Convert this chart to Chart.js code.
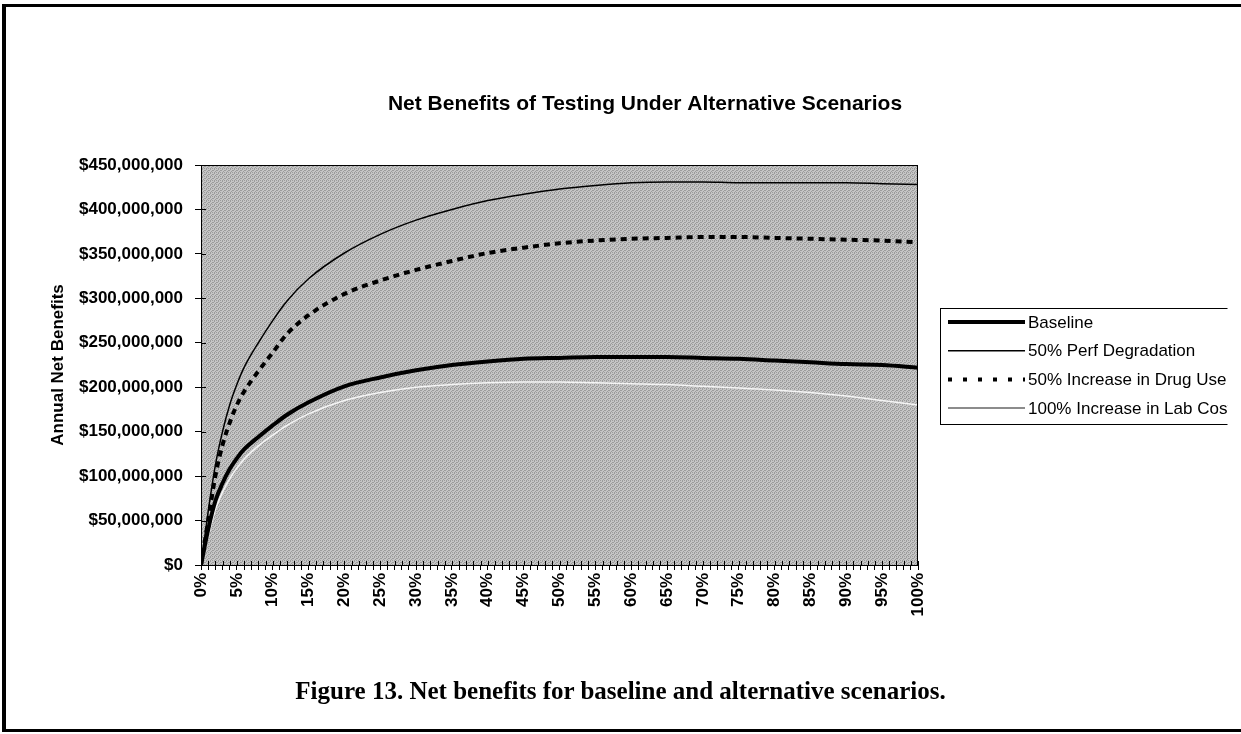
<!DOCTYPE html>
<html><head><meta charset="utf-8">
<script src="https://cdn.jsdelivr.net/npm/chart.js@4.4.1/dist/chart.umd.min.js"></script>
<style>
html,body{margin:0;padding:0;background:#fff;overflow:hidden;}
#wrap{position:relative;width:1241px;height:734px;overflow:hidden;}
#frame{position:absolute;left:2px;top:4px;width:1260px;height:728px;border-left:4px solid #000;border-top:3px solid #000;border-bottom:3px solid #000;box-sizing:border-box;}
canvas{position:absolute;left:0;top:0;}
#caption{position:absolute;left:0;width:1241px;top:676px;text-align:center;font-family:"Liberation Serif","Times New Roman",serif;font-weight:bold;font-size:25px;line-height:30px;color:#000;}
</style></head>
<body><div id="wrap"><div id="frame"></div><canvas id="c" width="1241" height="734"></canvas><div id="caption">Figure 13. Net benefits for baseline and alternative scenarios.</div></div>
<script>
// x positions (% tested) at which values were read
const percentTested = [0, 1, 2, 3, 4, 5, 6, 8, 10, 12, 15, 20, 25, 30, 35, 40, 45, 50, 55, 60, 65, 70, 75, 80, 85, 90, 95, 100];
// annual net benefits, millions of dollars
const baseline      = [0, 40, 72, 92, 108, 120, 130, 144, 157, 169, 183, 201, 211, 219, 225, 229, 232, 233, 234, 234, 234, 233, 232, 230, 228, 226, 225, 222];
const perfDegr50    = [0, 60, 112, 150, 180, 203, 222, 250, 275, 297, 322, 351, 372, 388, 400, 410, 417, 423, 427, 430, 431, 431, 430, 430, 430, 430, 429, 428];
const drugUse50     = [0, 50, 100, 135, 160, 180, 195, 218, 239, 260, 281, 305, 320, 332, 342, 351, 357, 362, 365, 367, 368, 369, 369, 368, 367, 366, 365, 363];
const labCost100    = [0, 32, 62, 82, 97, 109, 119, 134, 146, 157, 170, 185, 194, 200, 203, 205, 206, 206, 205, 204, 203, 201, 199, 197, 194, 190, 185, 180];
const seriesLabels  = ['Baseline', '50% Perf Degradation', '50% Increase in Drug Use', '100% Increase in Lab Cost'];
const chartTitle    = 'Net Benefits of Testing Under Alternative Scenarios';
const yAxisTitle    = 'Annual Net Benefits';
const yMax = 450000000, yStep = 50000000;
const xLabelEvery = 5;

const toPts = arr => arr.map((v, i) => ({x: percentTested[i], y: v * 1e6}));
const FONT = '"Liberation Sans", Arial, sans-serif';

function stipple(ctx) {
  const p = document.createElement('canvas');
  p.width = 4; p.height = 4;
  const g = p.getContext('2d');
  g.fillStyle = '#c6c6c6';
  g.fillRect(0, 0, 4, 4);
  g.fillStyle = '#9c9c9c';
  g.fillRect(0, 0, 1, 1); g.fillRect(2, 1, 1, 1); g.fillRect(1, 2, 1, 1); g.fillRect(3, 3, 1, 1);
  g.fillRect(2, 0, 1, 1); g.fillRect(0, 2, 1, 1);
  return ctx.createPattern(p, 'repeat');
}

const plotDecor = {
  id: 'plotDecor',
  beforeDraw(chart) {
    const {ctx, chartArea: a} = chart;
    ctx.save();
    ctx.fillStyle = stipple(ctx);
    ctx.fillRect(a.left, a.top, a.right - a.left, a.bottom - a.top);
    ctx.restore();
  },
  afterDraw(chart) {
    const {ctx, chartArea: a} = chart;
    ctx.save();
    // chart title, centred over the whole chart object (plot + legend)
    ctx.fillStyle = '#000';
    ctx.font = 'bold 21px ' + FONT;
    ctx.textAlign = 'center';
    ctx.textBaseline = 'middle';
    ctx.fillText(chartTitle, 645, 104);
    // plot frame
    ctx.strokeStyle = '#000';
    ctx.lineWidth = 1;
    ctx.strokeRect(a.left + 0.5, a.top + 0.5, a.right - a.left - 1, a.bottom - a.top);
    // inner halves of tick marks (cross ticks)
    const xs = chart.scales.x, ys = chart.scales.y;
    ctx.beginPath();
    xs.ticks.forEach((t, i) => { const px = Math.round(xs.getPixelForTick(i)) + 0.5; ctx.moveTo(px, a.bottom); ctx.lineTo(px, a.bottom - 4); });
    ys.ticks.forEach((t, i) => { const py = Math.round(ys.getPixelForTick(i)) + 0.5; ctx.moveTo(a.left, py); ctx.lineTo(a.left + 5, py); });
    ctx.stroke();
    // legend (clipped by the chart object's right edge, as in the original)
    const L = {x: 940, y: 308, w: 400, h: 116, clipRight: 1227.5, row0: 322, rowH: 28.7, line0: 948, line1: 1025, text: 1028};
    ctx.beginPath();
    ctx.rect(0, 0, L.clipRight, 734);
    ctx.clip();
    ctx.fillStyle = '#fff';
    ctx.fillRect(L.x, L.y, L.w, L.h);
    ctx.strokeStyle = '#000';
    ctx.lineWidth = 1;
    ctx.strokeRect(L.x + 0.5, L.y + 0.5, L.w, L.h);
    chart.data.datasets.forEach((ds, i) => {
      const y = L.row0 + i * L.rowH;
      ctx.save();
      ctx.strokeStyle = ds.legendColor || ds.borderColor;
      ctx.lineWidth = ds.borderWidth;
      ctx.setLineDash(ds.legendDash || ds.borderDash || []);
      ctx.beginPath();
      ctx.moveTo(L.line0, y);
      ctx.lineTo(L.line1, y);
      ctx.stroke();
      ctx.restore();
      ctx.fillStyle = '#000';
      ctx.font = '17px ' + FONT;
      ctx.textBaseline = 'middle';
      ctx.textAlign = 'left';
      ctx.fillText(ds.label, L.text, y + 1);
    });
    ctx.restore();
  }
};

new Chart(document.getElementById('c'), {
  type: 'line',
  data: {
    datasets: [
      {label: seriesLabels[0], data: toPts(baseline), borderColor: '#000', borderWidth: 4},
      {label: seriesLabels[1], data: toPts(perfDegr50), borderColor: '#000', borderWidth: 1.5},
      {label: seriesLabels[2], data: toPts(drugUse50), borderColor: '#000', borderWidth: 4, borderDash: [6, 5], legendDash: [4, 11]},
      {label: seriesLabels[3], data: toPts(labCost100), borderColor: '#f5f5f5', legendColor: '#666', borderWidth: 1.5}
    ]
  },
  options: {
    responsive: false,
    animation: false,
    devicePixelRatio: 1,
    elements: {point: {radius: 0}, line: {cubicInterpolationMode: 'monotone', fill: false}},
    layout: {padding: {top: 165, right: 323, left: 0, bottom: 0}},
    plugins: {
      legend: {display: false},
      tooltip: {enabled: false},
      title: {display: false}
    },
    scales: {
      x: {
        type: 'linear', min: 0, max: 100,
        afterFit(s) { s.height = 169; },
        border: {display: true, color: '#000', width: 1},
        grid: {drawOnChartArea: false, drawTicks: true, tickLength: 5, color: '#000'},
        ticks: {
          stepSize: 1, autoSkip: false, maxRotation: 90, minRotation: 90, padding: 3, color: '#000',
          font: {family: FONT, size: 17, weight: 'bold'},
          callback: v => (v % xLabelEvery === 0 ? v + '%' : '')
        }
      },
      y: {
        min: 0, max: yMax,
        afterFit(s) { s.width = 201; },
        border: {display: true, color: '#000', width: 1},
        grid: {drawOnChartArea: false, drawTicks: true, tickLength: 6, color: '#000'},
        title: {display: true, text: yAxisTitle, color: '#000',
          font: {family: FONT, size: 17, weight: 'bold'},
          padding: {top: 48, bottom: 0}},
        ticks: {
          stepSize: yStep, padding: 12, color: '#000',
          font: {family: FONT, size: 17, weight: 'bold'},
          callback: v => '$' + Number(v).toLocaleString('en-US')
        }
      }
    }
  },
  plugins: [plotDecor]
});
</script>
</body></html>
